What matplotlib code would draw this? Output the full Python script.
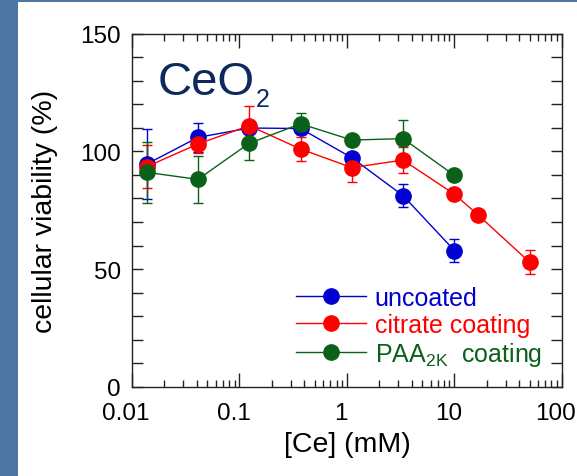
import matplotlib
matplotlib.use("Agg")
import matplotlib.pyplot as plt
import matplotlib.patches as patches
import matplotlib.transforms as mtransforms
from matplotlib.ticker import LogLocator, MultipleLocator, FixedFormatter, FixedLocator

plt.rcParams['font.family'] = ['Liberation Sans', 'DejaVu Sans']

# ---- data ----
conc = [0.0137, 0.041, 0.123, 0.37, 1.11, 3.33, 10.0]
conc_citrate = [0.0137, 0.041, 0.123, 0.37, 1.11, 3.33, 10.0, 16.6, 50.0]

uncoated = [94.6, 105.9, 109.9, 109.7, 97.3, 81.2, 57.9]
uncoated_err = [14.7, 6.0, 1.0, 2.5, 2.0, 5.0, 4.8]

citrate = [93.5, 103.1, 110.9, 101.0, 93.1, 96.3, 81.8, 73.0, 53.0]
citrate_err = [9.0, 4.0, 8.5, 5.0, 6.0, 5.5, 1.5, 1.0, 5.0]

paa = [91.1, 88.1, 103.4, 111.7, 104.8, 105.4, 89.8]
paa_err = [13.0, 10.0, 7.0, 4.5, 1.0, 8.0, 1.0]

series_names = ["uncoated", "citrate coating", "PAA$_{\\mathregular{2K}}$  coating"]
colors = ["#0000d0", "#ff0000", "#0b6119"]

x_ticks = [0.01, 0.1, 1, 10, 100]
x_tick_labels = ["0.01", "0.1", "1", "10", "100"]
y_ticks = [0, 50, 100, 150]

# ---- figure ----
fig = plt.figure(figsize=(5.77, 4.77), dpi=100)
fig.patch.set_facecolor("#4f75a2")
panel = patches.Rectangle((18 / 577, 0), 1, 1 - 3 / 477,
                          transform=fig.transFigure,
                          facecolor="white", edgecolor="none", zorder=-10)
fig.add_artist(panel)

ax = fig.add_axes([0.2288, 0.1866, 0.745, 0.741])
ax.set_facecolor("white")

datasets = [(conc, uncoated, uncoated_err),
            (conc_citrate, citrate, citrate_err),
            (conc, paa, paa_err)]
handles = []
for (xs, ys, es), c, name in zip(datasets, colors, series_names):
    ax.errorbar(xs, ys, yerr=es, fmt="none", ecolor=c, elinewidth=1,
                capsize=3.5, capthick=1, zorder=2)
    h, = ax.plot(xs, ys, "-o", color=c, lw=1, ms=11, zorder=3, label=name)
    handles.append(h)

ax.set_xscale("log")
ax.set_xlim(0.01, 100)
ax.set_ylim(0, 150)

ax.xaxis.set_major_locator(FixedLocator(x_ticks))
ax.xaxis.set_major_formatter(FixedFormatter(x_tick_labels))
ax.xaxis.set_minor_locator(LogLocator(base=10, subs=range(2, 10)))
ax.yaxis.set_major_locator(FixedLocator(y_ticks))
ax.yaxis.set_minor_locator(MultipleLocator(10))

ax.tick_params(which="both", direction="in", top=True, right=True,
               labelsize=17.5, width=1, color="#222222")
ax.tick_params(axis="x", which="major", length=10, pad=11)
ax.tick_params(axis="x", which="minor", length=5)
ax.tick_params(axis="y", which="both", length=8, pad=8)

# shift x tick labels slightly left like the original
offset = mtransforms.ScaledTranslation(-6 / 100, 0, fig.dpi_scale_trans)
for lab in ax.get_xticklabels():
    lab.set_transform(lab.get_transform() + offset)

for sp in ax.spines.values():
    sp.set_linewidth(1)
    sp.set_color("#222222")

ax.set_xlabel("[Ce] (mM)", fontsize=20.5, labelpad=5)
ax.set_ylabel("cellular viability (%)", fontsize=20.5, labelpad=16)

# CeO2 title inside the plot, subscript drawn as its own text
ceo = ax.text(0.06, 0.83, "CeO", transform=ax.transAxes,
              fontsize=34, color="#0c2a5c", ha="left", va="baseline")
ax.annotate("2", xy=(1, 0), xycoords=ceo, xytext=(0.5, -5),
            textcoords="offset points", fontsize=18, color="#0c2a5c",
            ha="left", va="bottom")

leg = ax.legend(handles=handles, loc="lower left", bbox_to_anchor=(0.381, 0.055),
                frameon=False, fontsize=18, handlelength=2.8,
                handletextpad=0.35, labelspacing=0.12, borderpad=0,
                borderaxespad=0)
for t, c in zip(leg.get_texts(), colors):
    t.set_color(c)

fig.savefig("out.png", dpi=100, facecolor=fig.get_facecolor())
